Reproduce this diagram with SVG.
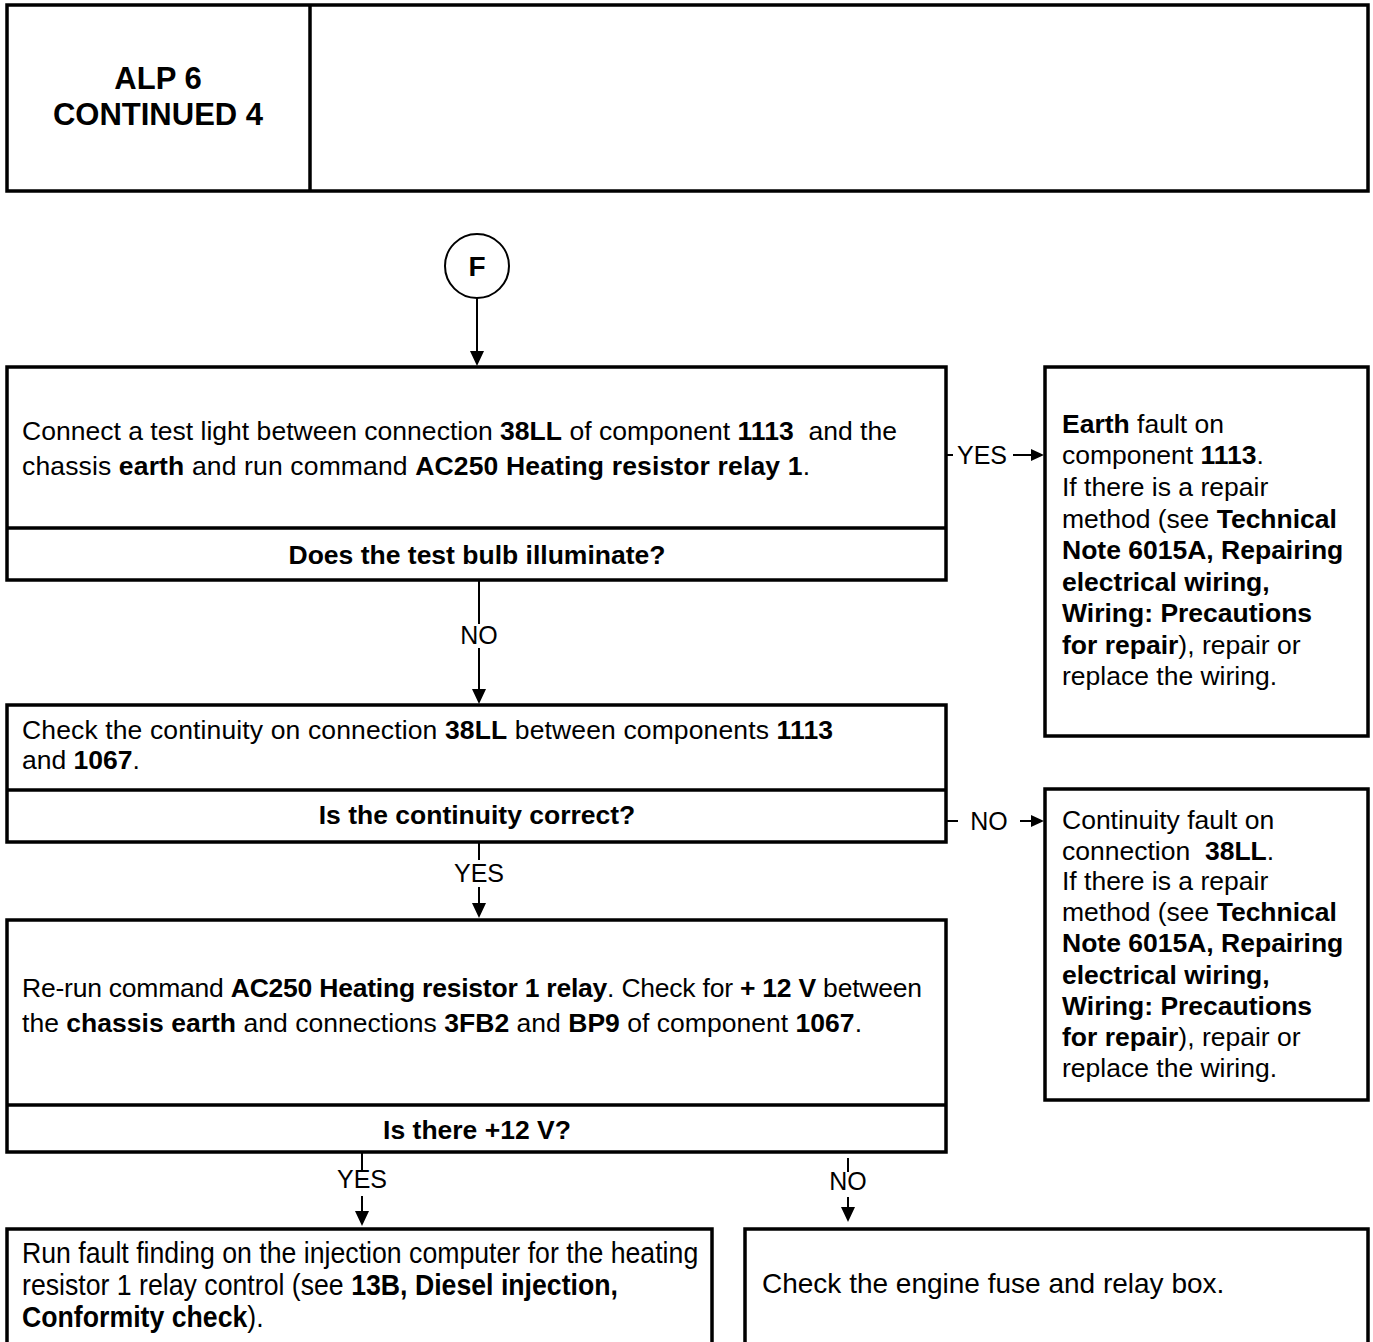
<svg xmlns="http://www.w3.org/2000/svg" width="1373" height="1342" viewBox="0 0 1373 1342">
<defs>
<style>
.box{fill:#fff;stroke:#000;stroke-width:3.5}
.sep{stroke:#000;stroke-width:3.5}
.t{font-family:"Liberation Sans",Arial,sans-serif;font-size:26.5px;fill:#000}
.b{font-weight:bold}
.lbl{font-family:"Liberation Sans",Arial,sans-serif;font-size:25px;fill:#000}
.con{stroke:#000;stroke-width:2;fill:none}
.head{fill:#000}
</style>
</defs>
<g id="header">
<rect class="box" x="7" y="5" width="1361" height="186"/>
<line class="sep" x1="310" y1="5" x2="310" y2="191"/>
<text class="t b" x="158" y="89" text-anchor="middle" style="font-size:31px">ALP 6</text>
<text class="t b" x="158" y="125" text-anchor="middle" style="font-size:31px">CONTINUED 4</text>
</g>
<g id="nodeF">
<circle cx="477" cy="266" r="32" fill="#fff" stroke="#000" stroke-width="2"/>
<text class="t b" x="477" y="276" text-anchor="middle" style="font-size:28px">F</text>
</g>
<g id="box1">
<rect class="box" x="7" y="367" width="939" height="213"/>
<line class="sep" x1="7" y1="528" x2="946" y2="528"/>
<text class="t" x="22" y="440" textLength="875">Connect a test light between connection <tspan class="b">38LL</tspan> of component <tspan class="b">1113</tspan>&#160; and the</text>
<text class="t" x="22" y="475" textLength="788">chassis <tspan class="b">earth</tspan> and run command <tspan class="b">AC250 Heating resistor relay 1</tspan>.</text>
<text class="t b" x="477" y="564" text-anchor="middle">Does the test bulb illuminate?</text>
</g>
<g id="result1">
<rect class="box" x="1045" y="367" width="323" height="369"/>
<text class="t" x="1062" y="433"><tspan class="b">Earth</tspan> fault on</text>
<text class="t" x="1062" y="464">component <tspan class="b">1113</tspan>.</text>
<text class="t" x="1062" y="496">If there is a repair</text>
<text class="t" x="1062" y="528">method (see <tspan class="b">Technical</tspan></text>
<text class="t b" x="1062" y="559">Note 6015A, Repairing</text>
<text class="t b" x="1062" y="591">electrical wiring,</text>
<text class="t b" x="1062" y="622">Wiring: Precautions</text>
<text class="t" x="1062" y="654"><tspan class="b">for repair</tspan>), repair or</text>
<text class="t" x="1062" y="685">replace the wiring.</text>
</g>
<g id="box2">
<rect class="box" x="7" y="705" width="939" height="137"/>
<line class="sep" x1="7" y1="790" x2="946" y2="790"/>
<text class="t" x="22" y="739" textLength="811">Check the continuity on connection <tspan class="b">38LL</tspan> between components <tspan class="b">1113</tspan></text>
<text class="t" x="22" y="769">and <tspan class="b">1067</tspan>.</text>
<text class="t b" x="477" y="824" text-anchor="middle">Is the continuity correct?</text>
</g>
<g id="result2">
<rect class="box" x="1045" y="789" width="323" height="311"/>
<text class="t" x="1062" y="829">Continuity fault on</text>
<text class="t" x="1062" y="860">connection&#160; <tspan class="b">38LL</tspan>.</text>
<text class="t" x="1062" y="890">If there is a repair</text>
<text class="t" x="1062" y="921">method (see <tspan class="b">Technical</tspan></text>
<text class="t b" x="1062" y="952">Note 6015A, Repairing</text>
<text class="t b" x="1062" y="984">electrical wiring,</text>
<text class="t b" x="1062" y="1015">Wiring: Precautions</text>
<text class="t" x="1062" y="1046"><tspan class="b">for repair</tspan>), repair or</text>
<text class="t" x="1062" y="1077">replace the wiring.</text>
</g>
<g id="box3">
<rect class="box" x="7" y="920" width="939" height="232"/>
<line class="sep" x1="7" y1="1105" x2="946" y2="1105"/>
<text class="t" x="22" y="997" textLength="900">Re-run command <tspan class="b">AC250 Heating resistor 1 relay</tspan>. Check for <tspan class="b">+ 12 V</tspan> between</text>
<text class="t" x="22" y="1032" textLength="840">the <tspan class="b">chassis earth</tspan> and connections <tspan class="b">3FB2</tspan> and <tspan class="b">BP9</tspan> of component <tspan class="b">1067</tspan>.</text>
<text class="t b" x="477" y="1139" text-anchor="middle">Is there +12 V?</text>
</g>
<g id="box4">
<rect class="box" x="7" y="1229" width="705" height="130"/>
<g transform="translate(22,0) scale(0.92,1)">
<text class="t" x="0" y="1263" style="font-size:29px">Run fault finding on the injection computer for the heating</text>
<text class="t" x="0" y="1295" style="font-size:29px">resistor 1 relay control (see <tspan class="b">13B, Diesel injection,</tspan></text>
<text class="t" x="0" y="1327" style="font-size:29px"><tspan class="b">Conformity check</tspan>).</text>
</g>
</g>
<g id="box5">
<rect class="box" x="745" y="1229" width="623" height="130"/>
<text class="t" x="762" y="1293" style="font-size:28px">Check the engine fuse and relay box.</text>
</g>
<g id="connectors">
<line class="con" x1="477" y1="298" x2="477" y2="352"/>
<polygon class="head" points="470,351 484,351 477,366"/>

<line class="con" x1="479" y1="580" x2="479" y2="624"/>
<text class="lbl" x="479" y="644" text-anchor="middle">NO</text>
<line class="con" x1="479" y1="648" x2="479" y2="690"/>
<polygon class="head" points="472,689 486,689 479,704"/>

<line class="con" x1="946" y1="455" x2="953" y2="455"/>
<text class="lbl" x="982" y="464" text-anchor="middle">YES</text>
<line class="con" x1="1013" y1="455" x2="1033" y2="455"/>
<polygon class="head" points="1031,449 1031,461 1044,455"/>

<line class="con" x1="946" y1="821" x2="958" y2="821"/>
<text class="lbl" x="989" y="830" text-anchor="middle">NO</text>
<line class="con" x1="1020" y1="821" x2="1033" y2="821"/>
<polygon class="head" points="1031,815 1031,827 1044,821"/>

<line class="con" x1="479" y1="842" x2="479" y2="860"/>
<text class="lbl" x="479" y="882" text-anchor="middle">YES</text>
<line class="con" x1="479" y1="887" x2="479" y2="905"/>
<polygon class="head" points="472,903 486,903 479,918"/>

<line class="con" x1="362" y1="1152" x2="362" y2="1170"/>
<text class="lbl" x="362" y="1188" text-anchor="middle">YES</text>
<line class="con" x1="362" y1="1196" x2="362" y2="1213"/>
<polygon class="head" points="355,1211 369,1211 362,1226"/>

<line class="con" x1="848" y1="1158" x2="848" y2="1172"/>
<text class="lbl" x="848" y="1190" text-anchor="middle">NO</text>
<line class="con" x1="848" y1="1197" x2="848" y2="1209"/>
<polygon class="head" points="841,1207 855,1207 848,1222"/>
</g>
</svg>
